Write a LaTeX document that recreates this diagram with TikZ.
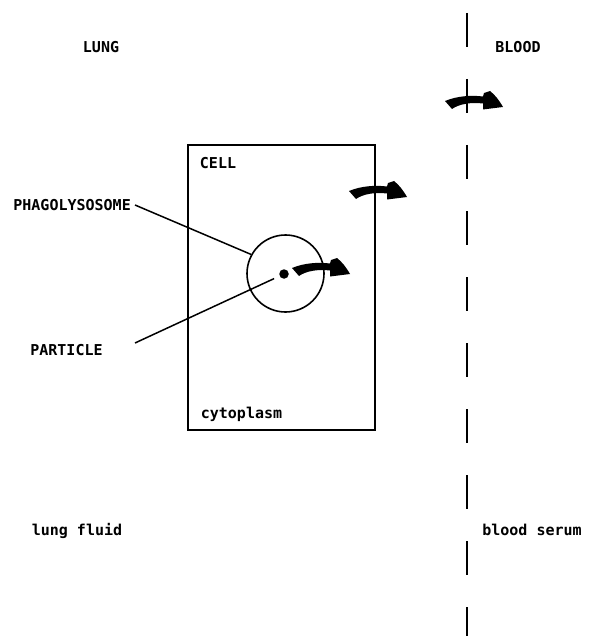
\documentclass[tikz,border=0pt]{standalone}
\usepackage{fontspec}
\newfontfamily\labfont{DejaVu Sans Mono}
\begin{document}
\begin{tikzpicture}[x=1pt,y=-1pt,
  lab/.style={font=\labfont\bfseries\fontsize{15}{16}\selectfont, inner sep=0pt},
  leader/.style={line width=1.5pt},
  pics/flowarrow/.style={code={
    \fill (0,-2) .. controls (12,-7) and (26,-8) .. (38,-6.5) -- (39,-10) -- (45,-12)
      .. controls (50,-8) and (54,-3) .. (58,4) -- (38,6.5) -- (38,0.5)
      .. controls (26,-1) and (14,1) .. (7,6) -- cycle;}}]
\useasboundingbox (0,0) rectangle (593,636);
% membrane (dashed)
\draw[line width=1.6pt, dash pattern=on 34pt off 32pt, dash phase=-13pt] (467,0) -- (467,636);
% cell
\node[draw, line width=1.5pt, minimum width=187pt, minimum height=285pt, inner sep=0pt] (cell) at (281.5,287.5) {};
% phagolysosome
\node[draw, circle, line width=1.6pt, minimum size=77pt, inner sep=0pt] (phago) at (285.5,273.5) {};
\node[fill, circle, minimum size=9.5pt, inner sep=0pt] (part) at (284,274) {};
% labels
\node[lab] (lung) at (101,47.5) {LUNG};
\node[lab] (blood) at (518,47.5) {BLOOD};
\node[lab] (celllab) at (218,163) {CELL};
\node[lab, anchor=east] (phagolab) at (131,205) {PHAGOLYSOSOME};
\node[lab] (partlab) at (66.5,350) {PARTICLE};
\node[lab, anchor=base] (cyto) at (241.5,418) {cytoplasm};
\node[lab, anchor=base] (fluid) at (77,535) {lung fluid};
\node[lab, anchor=base] (serum) at (532,535) {blood serum};
% leaders
\coordinate (phagoend) at (135,205);
\coordinate (partend) at (135,343);
\draw[leader] (phagoend) -- (phago.151);
\draw[leader, shorten >=6pt] (partend) -- (part);
% transport arrows
\pic at (445,103) {flowarrow};
\pic at (349,193) {flowarrow};
\pic at (292,270) {flowarrow};
\end{tikzpicture}
\end{document}
